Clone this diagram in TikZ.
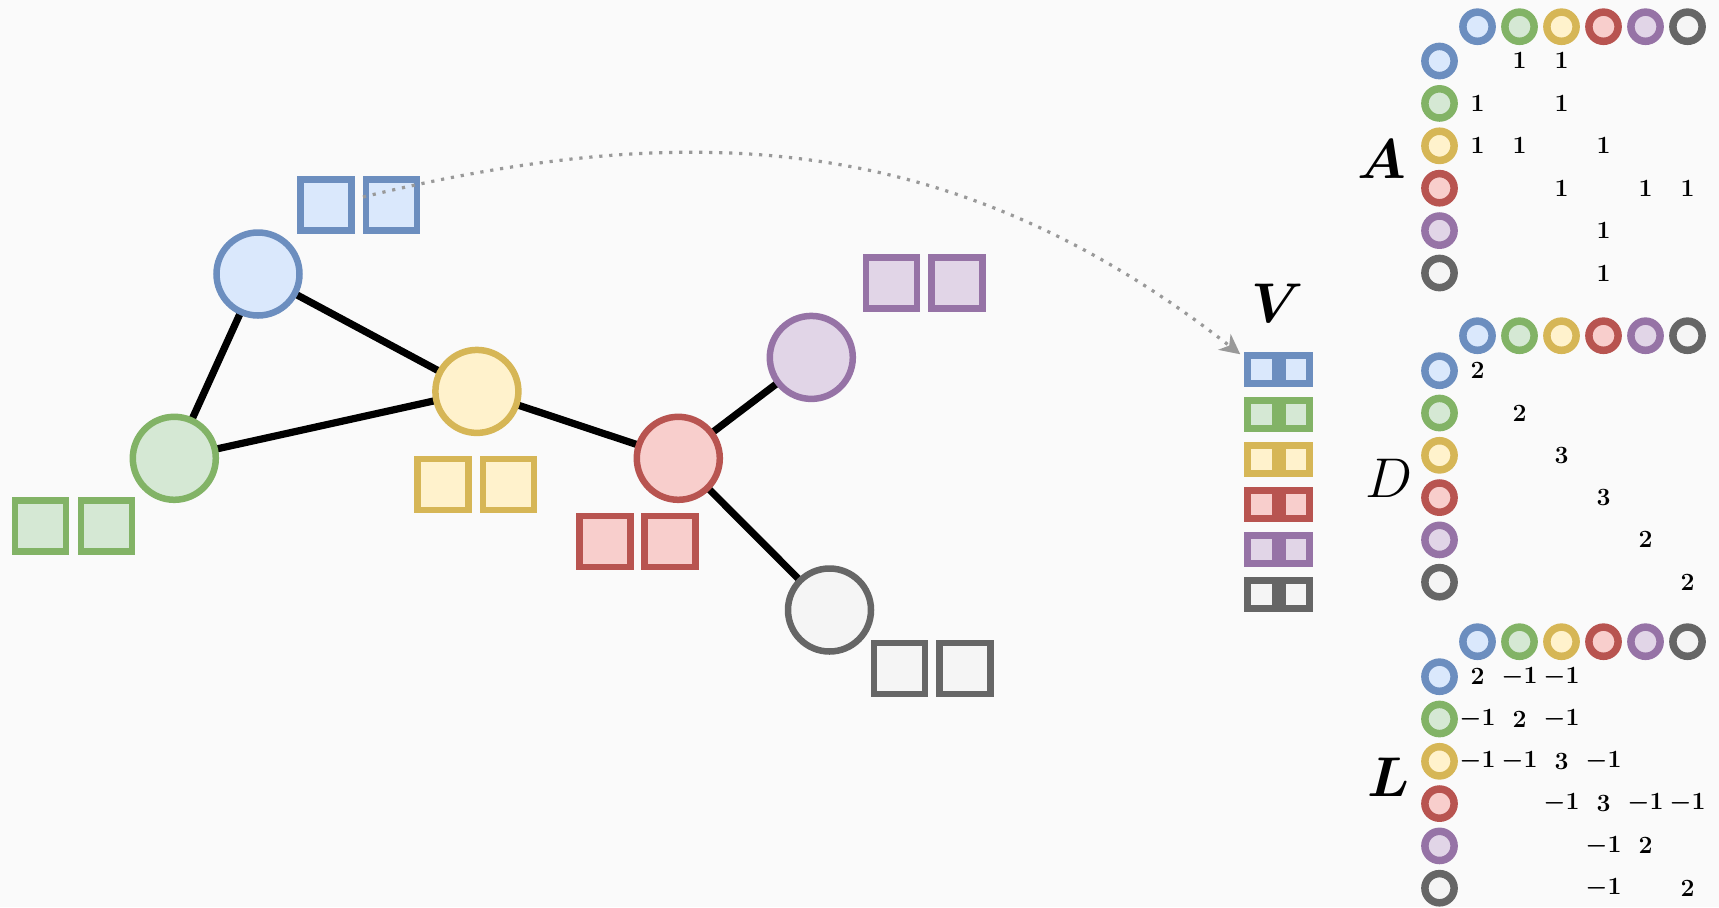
\RequirePackage{fix-cm}
\documentclass[tikz,border=0pt]{standalone}
\usetikzlibrary{arrows.meta,backgrounds}
\definecolor{sb}{HTML}{6C8EBF}\definecolor{fb}{HTML}{DAE8FC}
\definecolor{sg}{HTML}{82B366}\definecolor{fg}{HTML}{D5E8D4}
\definecolor{sy}{HTML}{D6B656}\definecolor{fy}{HTML}{FFF2CC}
\definecolor{sr}{HTML}{B85450}\definecolor{fr}{HTML}{F8CECC}
\definecolor{sp}{HTML}{9673A6}\definecolor{fp}{HTML}{E1D5E7}
\definecolor{sk}{HTML}{666666}\definecolor{fk}{HTML}{F5F5F5}
\definecolor{bgc}{HTML}{FAFAFA}
\definecolor{arrc}{HTML}{999999}
\tikzset{
  gnode/.style={circle,inner sep=0pt,minimum size=41.5pt,line width=3.25pt,draw=s#1,fill=f#1},
  gsq/.style={rectangle,inner sep=0pt,minimum size=25.5pt,line width=3.25pt,draw=s#1,fill=f#1},
  vsq/.style={rectangle,inner sep=0pt,minimum size=13.75pt,line width=3.5pt,draw=s#1,fill=f#1},
  mcirc/.style={circle,inner sep=0pt,minimum size=14.6pt,line width=3.75pt,draw=s#1,fill=f#1},
  num/.style={inner sep=0pt,font=\fontsize{12.4}{14}\selectfont\boldmath},
  biglbl/.style={inner sep=0pt,font=\fontsize{28}{32}\selectfont},
  bigbold/.style={inner sep=0pt,font=\fontsize{28}{32}\selectfont\boldmath},
  gedge/.style={line width=3.6pt,black},
  arrsty/.style={arrc,line width=1.6pt,dash pattern=on 1.6pt off 3.4pt,
     -{Stealth[length=10pt,width=10pt,inset=3pt]}}
}
\newcommand\matent[4]{\node[num] (#1-#2-#3) at (#1-c#3 |- #1-r#2) {$#4$};}
\begin{document}
\begin{tikzpicture}[x=0.5pt,y=-0.5pt]
\useasboundingbox (0,0) rectangle (1719,907);
% graph nodes
\node[gnode=b] (nb) at (258,274) {};
\node[gnode=g] (ng) at (174.3,458.3) {};
\node[gnode=y] (ny) at (476.9,391.4) {};
\node[gnode=r] (nr) at (678.3,458.3) {};
\node[gnode=p] (np) at (811.3,357.4) {};
\node[gnode=k] (nk) at (829.5,610) {};
% feature squares
\node[gsq=b] (gb1) at (326,205) {};
\node[gsq=b] (gb2) at (391.7,205) {};
\node[gsq=g] (gg1) at (40.6,526.2) {};
\node[gsq=g] (gg2) at (106.3,526.2) {};
\node[gsq=y] (gy1) at (442.9,484.6) {};
\node[gsq=y] (gy2) at (508.7,484.6) {};
\node[gsq=r] (gr1) at (605.2,541.6) {};
\node[gsq=r] (gr2) at (669.8,541.6) {};
\node[gsq=p] (gp1) at (891.3,282.8) {};
\node[gsq=p] (gp2) at (957.1,282.8) {};
\node[gsq=k] (gk1) at (899.5,668.7) {};
\node[gsq=k] (gk2) at (965.2,668.7) {};
% background and edges
\begin{scope}[on background layer]
\fill[bgc] (0,0) rectangle (1719,907);
\draw[gedge] (nb.center) -- (ng.center);
\draw[gedge] (nb.center) -- (ny.center);
\draw[gedge] (ng.center) -- (ny.center);
\draw[gedge] (ny.center) -- (nr.center);
\draw[gedge] (nr.center) -- (np.center);
\draw[gedge] (nr.center) -- (nk.center);
\end{scope}
% V column
\node[bigbold] (vlbl) at (1278,303) {$V$};
\foreach \c [count=\i from 0] in {b,g,y,r,p,k} {
  \node[vsq=\c] (v\c1) at (1261.5,{369.5+45*\i}) {};
  \node[vsq=\c] (v\c2) at (1296,{369.5+45*\i}) {};
}
% matrix headers
\foreach \c [count=\j from 0] in {b,g,y,r,p,k} {
  \node[mcirc=\c] (A-c\j) at ({1477.5+42*\j},26.7) {};
  \node[mcirc=\c] (A-r\j) at (1439.5,{61+42.4*\j}) {};
  \node[mcirc=\c] (D-c\j) at ({1477.5+42*\j},335.7) {};
  \node[mcirc=\c] (D-r\j) at (1439.5,{370.7+42.3*\j}) {};
  \node[mcirc=\c] (L-c\j) at ({1477.5+42*\j},641.7) {};
  \node[mcirc=\c] (L-r\j) at (1439.5,{676.7+42.3*\j}) {};
}
\node[bigbold] (Albl) at (1381.7,159) {$A$};
\node[biglbl] (Dlbl) at (1389,478) {$D$};
\node[bigbold] (Llbl) at (1388.5,777) {$L$};
% A entries
\matent{A}{0}{1}{1}\matent{A}{0}{2}{1}
\matent{A}{1}{0}{1}\matent{A}{1}{2}{1}
\matent{A}{2}{0}{1}\matent{A}{2}{1}{1}\matent{A}{2}{3}{1}
\matent{A}{3}{2}{1}\matent{A}{3}{4}{1}\matent{A}{3}{5}{1}
\matent{A}{4}{3}{1}
\matent{A}{5}{3}{1}
% D entries
\matent{D}{0}{0}{2}\matent{D}{1}{1}{2}\matent{D}{2}{2}{3}
\matent{D}{3}{3}{3}\matent{D}{4}{4}{2}\matent{D}{5}{5}{2}
% L entries
\matent{L}{0}{0}{2}\matent{L}{0}{1}{-1}\matent{L}{0}{2}{-1}
\matent{L}{1}{0}{-1}\matent{L}{1}{1}{2}\matent{L}{1}{2}{-1}
\matent{L}{2}{0}{-1}\matent{L}{2}{1}{-1}\matent{L}{2}{2}{3}\matent{L}{2}{3}{-1}
\matent{L}{3}{2}{-1}\matent{L}{3}{3}{3}\matent{L}{3}{4}{-1}\matent{L}{3}{5}{-1}
\matent{L}{4}{3}{-1}\matent{L}{4}{4}{2}
\matent{L}{5}{3}{-1}\matent{L}{5}{5}{2}
% arrow
\draw[arrsty] ([yshift=4pt]gb2.west) .. controls (700,115) and (960,135) .. ([xshift=-2pt,yshift=-1pt]vb1.north west);
\end{tikzpicture}
\end{document}
